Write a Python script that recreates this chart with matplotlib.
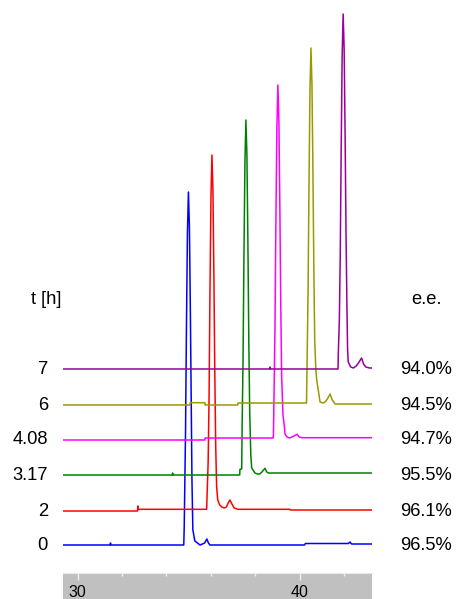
import matplotlib
matplotlib.use("Agg")
import matplotlib.pyplot as plt
from matplotlib.transforms import blended_transform_factory

plt.rcParams['font.family'] = ['Liberation Sans', 'DejaVu Sans']

# reaction time labels (left) and e.e. labels (right), bottom to top
times = ['0', '2', '3.17', '4.08', '6', '7']
ee = ['96.5%', '96.1%', '95.5%', '94.7%', '94.5%', '94.0%']
colors = ['#0000ff', '#ff0000', '#008000', '#ff00ff', '#999900', '#990099']
offsets = [0, 34, 70, 105, 140, 176]

# chromatogram traces: retention time [min], signal
t0 = [29.34, 31.46, 31.48, 31.50, 34.78, 34.80, 34.82, 34.86, 34.90, 34.945, 34.99, 35.035, 35.08,
      35.12, 35.15, 35.19, 35.28, 35.40, 35.51, 35.62, 35.72, 35.82, 35.89, 35.96, 40.22, 40.26,
      42.20, 42.27, 42.34, 43.26]
s0 = [0, 0, 2, 0, 0, 17, 49, 113, 215, 311, 353, 318, 229, 134, 64, 15, 4, 2, 0, 1, 2, 6, 2, 0,
      0, 1.5, 1.5, 3, 1, 1]

t2 = [29.34, 32.70, 32.71, 32.73, 35.81, 35.82, 35.88, 35.92, 35.96, 36.005, 36.05, 36.095, 36.14,
      36.18, 36.22, 36.26, 36.31, 36.40, 36.50, 36.60, 36.70, 36.78, 36.86, 36.95, 37.05, 37.22,
      39.56, 39.58, 43.26]
s2 = [0, 0, 5, 1.7, 1.7, 8, 50, 114, 217, 313, 356, 320, 231, 135, 64, 25, 11, 6, 4, 3, 4, 8, 11,
      7, 3, 1.7, 1.7, 1, 1]

t3 = [29.34, 34.26, 34.28, 34.30, 37.30, 37.31, 37.39, 37.41, 37.45, 37.49, 37.535, 37.58, 37.625,
      37.67, 37.71, 37.75, 37.80, 37.84, 37.99, 38.10, 38.20, 38.30, 38.44, 38.52, 38.60, 43.26]
s3 = [0, 0, 2, 0, 0, 5.7, 6, 50, 114, 216, 312, 355, 320, 231, 135, 64, 20, 7, 2, 1, 1, 3, 6.7,
      3, 2, 2]

t4 = [29.34, 35.73, 35.74, 38.81, 38.82, 38.85, 38.89, 38.93, 38.975, 39.02, 39.065, 39.11, 39.15,
      39.19, 39.25, 39.32, 39.34, 39.43, 39.55, 39.65, 39.75, 39.89, 39.98, 40.10, 43.26]
s4 = [0, 0, 2, 2, 5, 50, 114, 216, 312, 355, 320, 231, 135, 64, 25, 12, 6, 3, 2, 3, 4, 5.7, 3,
      2.3, 2.3]

t6 = [29.34, 35.06, 35.07, 35.73, 35.74, 37.21, 37.22, 40.31, 40.34, 40.38, 40.42, 40.465, 40.51,
      40.555, 40.60, 40.64, 40.68, 40.73, 40.77, 40.92, 41.05, 41.15, 41.25, 41.37, 41.47, 41.60,
      43.26]
s6 = [0, 0, 2.3, 2.3, 0, 0, 2, 2, 50, 114, 217, 314, 357, 321, 232, 136, 64, 35, 25, 3, 2, 3, 6,
      11, 5, 1, 1]

t7 = [29.34, 38.65, 38.67, 38.69, 41.73, 41.74, 41.79, 41.83, 41.87, 41.915, 41.96, 42.005, 42.05,
      42.09, 42.13, 42.16, 42.19, 42.30, 42.42, 42.55, 42.65, 42.79, 42.88, 42.98, 43.15, 43.26]
s7 = [0, 0, 2, 0, 0, 14, 50, 114, 216, 312, 355, 320, 231, 135, 64, 20, 7, 2, 1, 3, 6, 11, 5, 2,
      1, 1]

traces = [(t0, s0), (t2, s2), (t3, s3), (t4, s4), (t6, s6), (t7, s7)]

W, H = 458, 599
fig = plt.figure(figsize=(W / 100, H / 100), dpi=100)

# trace area
ax = fig.add_axes([63 / W, 26 / H, 309 / W, 573 / H])
for (t, s), off, c in zip(traces, offsets, colors):
    ax.plot(t, [v + off for v in s], color=c, lw=1.1)
ax.set_xlim(29.34, 43.26)
ax.set_ylim(-28, 545)
ax.axis('off')

# grey time axis strip
axb = fig.add_axes([63 / W, 0, 309 / W, 26 / H], facecolor='#c0c0c0')
axb.set_xlim(29.34, 43.26)
axb.set_ylim(0, 1)
axb.set_yticks([])
axb.set_xticks([30, 40])
axb.set_xticks([32, 34, 36, 38, 42], minor=True)
axb.tick_params(axis='x', which='both', direction='in', top=True, bottom=False,
                labeltop=False, labelbottom=True, color='#f0f0f0', width=1,
                labelsize=11.5, pad=-10)
axb.tick_params(axis='x', which='major', length=5)
axb.tick_params(axis='x', which='minor', length=2.5)
for side in ['left', 'right', 'bottom']:
    axb.spines[side].set_visible(False)
axb.spines['top'].set_color('#e8e8e8')

# labels beside the traces
tr = blended_transform_factory(fig.transFigure, ax.transData)
for lab, off in zip(times, offsets):
    ax.text(48 / W, off, lab, transform=tr, ha='right', va='center', fontsize=13.2)
for lab, off in zip(ee, offsets):
    ax.text(400 / W, off, lab, transform=tr, ha='left', va='center', fontsize=13.2)
ax.text(46 / W, 245, 't [h]', transform=tr, ha='center', va='center', fontsize=13.2)
ax.text(426 / W, 245, 'e.e.', transform=tr, ha='center', va='center', fontsize=13.2)

fig.savefig('out.png', dpi=100)
